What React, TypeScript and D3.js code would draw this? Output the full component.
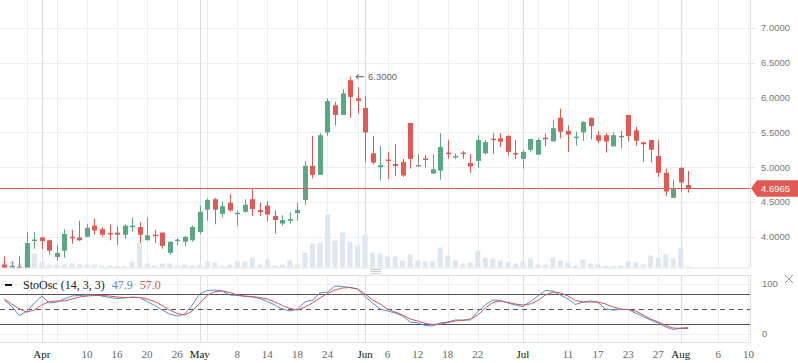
import React, { useEffect, useRef } from "react";
import * as d3 from "d3";

// daily candles, index 0 = first visible bar
const opens = [
  3.60, 3.58, 3.57, 3.55, 3.94, 3.99, 3.95, 3.71, 3.80, 4.00, 3.99, 4.00, 4.16, 4.11, 4.055, 4.06, 4.03, 4.15, 4.14, 3.95,
  4.03, 4.06, 3.77, 3.95, 3.93, 3.95, 4.07, 4.39, 4.54, 4.33, 4.49, 4.335, 4.36, 4.54, 4.385, 4.45, 4.30, 4.19, 4.232, 4.34,
  4.53, 5.02, 4.89, 5.50, 5.89, 5.75, 6.25, 5.99, 5.85, 5.20, 5.00, 5.11, 5.046, 5.075, 5.635, 5.03, 5.125, 4.91, 4.95, 5.21,
  5.15, 5.21, 5.06, 5.09, 5.20, 5.41, 5.415, 5.45, 5.205, 5.12, 5.25, 5.18, 5.424, 5.37, 5.71, 5.52, 5.43, 5.50, 5.71, 5.46,
  5.46, 5.30, 5.45, 5.75, 5.53, 5.357, 5.39, 5.16, 4.92, 4.56, 4.99, 4.744,
];
const highs = [
  3.72, 3.65, 3.72, 4.07, 4.07, 4.00, 3.96, 3.88, 4.11, 4.10, 4.23, 4.18, 4.26, 4.14, 4.18, 4.15, 4.18, 4.28, 4.21, 4.28,
  4.10, 4.06, 3.93, 3.98, 4.01, 4.16, 4.45, 4.55, 4.56, 4.51, 4.61, 4.375, 4.54, 4.70, 4.49, 4.51, 4.38, 4.31, 4.35, 4.49,
  5.09, 5.45, 5.49, 5.99, 5.94, 6.12, 6.30, 6.15, 6.02, 5.45, 5.31, 5.22, 5.33, 5.12, 5.635, 5.19, 5.175, 5.185, 5.49, 5.39,
  5.20, 5.233, 5.19, 5.46, 5.39, 5.49, 5.49, 5.46, 5.39, 5.25, 5.41, 5.42, 5.486, 5.68, 5.84, 5.60, 5.51, 5.66, 5.71, 5.52,
  5.49, 5.50, 5.525, 5.75, 5.58, 5.37, 5.39, 5.39, 4.98, 4.82, 5.00, 4.945,
];
const lows = [
  3.50, 3.55, 3.50, 3.50, 3.83, 3.82, 3.74, 3.66, 3.70, 3.90, 3.94, 4.00, 4.03, 4.00, 3.95, 3.88, 3.97, 4.07, 3.91, 3.95,
  3.91, 3.83, 3.74, 3.88, 3.86, 3.93, 4.04, 4.23, 4.18, 4.28, 4.36, 4.16, 4.35, 4.30, 4.30, 4.22, 4.05, 4.16, 4.19, 4.23,
  4.46, 4.84, 4.89, 5.45, 5.60, 5.75, 5.71, 5.77, 5.07, 5.04, 4.81, 4.83, 4.87, 4.86, 4.98, 5.02, 5.00, 4.90, 4.82, 5.12,
  5.12, 5.12, 4.92, 4.99, 5.18, 5.195, 5.29, 5.165, 5.12, 4.98, 5.22, 5.18, 5.30, 5.37, 5.415, 5.22, 5.31, 5.38, 5.40, 5.35,
  5.21, 5.30, 5.27, 5.37, 5.31, 5.08, 5.065, 4.86, 4.59, 4.56, 4.65, 4.634,
];
const closes = [
  3.55, 3.58, 3.54, 3.91, 3.96, 3.94, 3.80, 3.77, 4.04, 3.99, 3.95, 4.13, 4.09, 4.03, 4.045, 4.03, 4.16, 4.16, 4.03, 4.02,
  4.01, 3.87, 3.93, 3.96, 4.00, 4.14, 4.36, 4.53, 4.39, 4.44, 4.38, 4.347, 4.46, 4.40, 4.356, 4.32, 4.24, 4.24, 4.256, 4.385,
  5.02, 4.89, 5.46, 5.95, 5.75, 6.06, 6.01, 5.955, 5.50, 5.065, 5.03, 5.10, 5.017, 4.88, 5.12, 5.03, 5.115, 4.97, 5.29, 5.20,
  5.16, 5.20, 5.01, 5.39, 5.36, 5.40, 5.367, 5.22, 5.195, 5.22, 5.405, 5.39, 5.405, 5.56, 5.51, 5.47, 5.44, 5.65, 5.59, 5.38,
  5.37, 5.46, 5.45, 5.45, 5.38, 5.33, 5.25, 4.92, 4.65, 4.69, 4.78, 4.6965,
];
const volumes = [
  6, 6, 4, 14, 14, 6, 3, 3, 3, 4, 3, 3, 3, 2, 2, 1.5, 1.5, 6, 25, 4,
  2, 4, 4, 2, 3, 2, 3, 6, 5, 1.5, 3, 6, 6, 10, 3, 8, 2, 3, 7, 3,
  15, 24, 25, 53, 27, 35, 26, 22, 33, 15, 14, 11, 11, 7, 13, 7, 6, 6, 20, 12,
  7, 4, 5, 17, 10, 9, 7, 5, 4, 6, 9, 3, 3, 10, 7, 5, 2, 8, 4, 3,
  1.5, 1.5, 2, 6, 5, 3, 12, 10, 13, 9, 19, 1,
];

// stochastic oscillator (14, 3, 3)
const stoK = [
  68, 55, 37, 45, 62, 76, 62, 64, 70, 76, 77, 78, 78, 76, 73, 71, 72, 74, 73, 65,
  57, 48, 40, 36, 40, 58, 80, 87, 88, 86, 78, 77, 75, 74, 71, 65, 58, 50, 46, 50,
  64, 68, 82, 84, 96, 95, 93, 90, 75, 62, 50, 46, 42, 36, 24, 22, 17, 16, 22, 24,
  28, 28, 28, 45, 58, 68, 67, 62, 58, 55, 65, 76, 87, 86, 78, 70, 59, 64, 66, 63,
  50, 48, 49, 49, 42, 35, 28, 22, 14, 9, 12, 13,
];
const stoD = [
  70, 60, 50, 44, 48, 58, 65, 66, 66, 70, 74, 76, 77, 77, 76, 74, 73, 73, 73, 70,
  65, 57, 48, 41, 38, 46, 62, 77, 85, 86, 83, 78, 76, 75, 73, 70, 64, 57, 51, 48,
  54, 62, 72, 81, 88, 92, 93, 90, 80, 68, 60, 50, 44, 38, 30, 26, 21, 19, 20, 23,
  26, 27, 30, 38, 52, 63, 66, 63, 60, 58, 60, 67, 78, 84, 82, 76, 67, 64, 64, 64,
  60, 54, 50, 49, 46, 38, 30, 24, 17, 12, 11, 11,
];

const monthTicks = [5, 26, 48, 69, 90];
const monthLabels = ["Apr", "May", "Jun", "Jul", "Aug"];
const dayTicks = [11, 15, 19, 23, 31, 35, 39, 43, 51, 55, 59, 63, 75, 79, 83, 87, 95, 99];
const dayLabels = ["10", "16", "20", "26", "8", "14", "18", "24", "6", "12", "18", "22", "11", "17", "23", "27", "6", "10"];
const plainGrid = [3, 7, 27, 47, 67, 71];
const priceTicks = [4.0, 4.5, 5.0, 5.5, 6.0, 6.5, 7.0];
const oscLevels = [80, 50, 20];
const lastPrice = 4.6965;
const peakIndex = 46;

const W = 798;
const H = 363;
const plotRight = 750;
const mainBottom = 267.5;
const oscTop = 275;
const oscBottom = 342;

const UP = "#5aa882";
const DOWN = "#e25852";
const FLAT = "#888888";

export default function App() {
  const ref = useRef<SVGSVGElement>(null);

  useEffect(() => {
    const svg = d3.select(ref.current);
    svg.selectAll("*").remove();

    const x = d3.scaleLinear().domain([0, 91]).range([4.3, 4.3 + 91 * 7.516]);
    const y = d3.scaleLinear().domain([4, 7]).range([236.8, 28]);
    const yOsc = d3.scaleLinear().domain([0, 100]).range([334, 284]);
    const yVol = d3.scaleLinear().domain([0, d3.max(volumes)!]).range([mainBottom, mainBottom - 53]);

    const defs = svg.append("defs");
    defs.append("clipPath").attr("id", "mainClip")
      .append("rect").attr("x", 0).attr("y", 0).attr("width", plotRight).attr("height", mainBottom);
    defs.append("clipPath").attr("id", "oscClip")
      .append("rect").attr("x", 0).attr("y", oscTop).attr("width", plotRight).attr("height", oscBottom - oscTop);

    svg.append("rect").attr("width", W).attr("height", H).attr("fill", "#fff");

    // grid
    const grid = svg.append("g");
    grid.selectAll(".hg").data(priceTicks).join("line")
      .attr("x1", 0).attr("x2", plotRight)
      .attr("y1", (d) => Math.round(y(d)) + 0.5).attr("y2", (d) => Math.round(y(d)) + 0.5)
      .attr("stroke", "#eceef1");
    const vLines = (ticks: number[], color: string) =>
      ticks.forEach((t) => {
        const xx = Math.round(x(t)) + 0.5;
        grid.append("line").attr("x1", xx).attr("x2", xx).attr("y1", 0).attr("y2", mainBottom).attr("stroke", color);
        grid.append("line").attr("x1", xx).attr("x2", xx).attr("y1", oscTop).attr("y2", oscBottom).attr("stroke", color);
      });
    vLines(dayTicks.concat(plainGrid), "#eceef1");
    vLines(monthTicks, "#d9dce1");
    [100, 0].forEach((v) => {
      grid.append("line").attr("x1", 0).attr("x2", plotRight)
        .attr("y1", Math.round(yOsc(v)) + 0.5).attr("y2", Math.round(yOsc(v)) + 0.5).attr("stroke", "#eceef1");
    });

    // frames
    const frame = svg.append("g").attr("stroke", "#dde1e6").attr("fill", "none");
    frame.append("line").attr("x1", plotRight + 0.5).attr("x2", plotRight + 0.5).attr("y1", 0).attr("y2", mainBottom);
    frame.append("line").attr("x1", 0).attr("x2", plotRight).attr("y1", mainBottom + 0.5).attr("y2", mainBottom + 0.5);
    frame.append("line").attr("x1", 0).attr("x2", plotRight).attr("y1", oscTop + 0.5).attr("y2", oscTop + 0.5);
    frame.append("line").attr("x1", plotRight + 0.5).attr("x2", plotRight + 0.5).attr("y1", oscTop).attr("y2", oscBottom);
    frame.append("line").attr("x1", 0).attr("x2", plotRight + 0.5).attr("y1", oscBottom + 0.5).attr("y2", oscBottom + 0.5);
    [269.5, 271.5, 273.5].forEach((yy) =>
      svg.append("line").attr("x1", 370).attr("x2", 381).attr("y1", yy).attr("y2", yy).attr("stroke", "#c9cdd2"));

    // volume + candles
    const main = svg.append("g").attr("clip-path", "url(#mainClip)");
    main.selectAll(".vol").data(volumes).join("rect")
      .attr("x", (d, i) => x(i) - 2.5).attr("width", 5)
      .attr("y", (d) => yVol(d)).attr("height", (d) => mainBottom - yVol(d))
      .attr("fill", "#dce7f2");

    const idx = d3.range(opens.length);
    const color = (i: number) => (closes[i] > opens[i] ? UP : closes[i] < opens[i] ? DOWN : FLAT);
    main.selectAll(".wick").data(idx).join("line")
      .attr("x1", (i) => Math.round(x(i)) + 0.5).attr("x2", (i) => Math.round(x(i)) + 0.5)
      .attr("y1", (i) => y(highs[i])).attr("y2", (i) => y(lows[i]))
      .attr("stroke", color);
    main.selectAll(".body").data(idx).join("rect")
      .attr("x", (i) => Math.round(x(i)) - 2).attr("width", 5)
      .attr("y", (i) => y(Math.max(opens[i], closes[i])))
      .attr("height", (i) => Math.max(1.5, Math.abs(y(opens[i]) - y(closes[i]))))
      .attr("fill", color);

    // last price line
    const yl = Math.round(y(lastPrice)) + 0.5;
    svg.append("line").attr("x1", 0).attr("x2", plotRight).attr("y1", yl).attr("y2", yl)
      .attr("stroke", DOWN).attr("stroke-width", 1.2);

    // peak annotation
    const px = x(peakIndex) + 5;
    const py = y(highs[peakIndex]);
    svg.append("path").attr("d", `M${px + 9},${py} H${px + 1} M${px + 3.5},${py - 2.5} L${px + 1},${py} L${px + 3.5},${py + 2.5}`)
      .attr("stroke", "#555").attr("fill", "none");
    svg.append("text").attr("x", px + 13).attr("y", py).attr("dy", "0.35em")
      .attr("font-family", "Liberation Sans, Arial, sans-serif").attr("font-size", 9.5).attr("fill", "#666")
      .text(highs[peakIndex].toFixed(4));

    // price axis
    const axisFont = "Liberation Sans, Arial, sans-serif";
    const pa = svg.append("g");
    pa.selectAll("line").data(priceTicks).join("line")
      .attr("x1", 751).attr("x2", 755).attr("y1", (d) => Math.round(y(d)) + 0.5).attr("y2", (d) => Math.round(y(d)) + 0.5)
      .attr("stroke", "#dde1e6");
    pa.selectAll("text").data(priceTicks).join("text")
      .attr("x", 761).attr("y", (d) => y(d)).attr("dy", "0.35em")
      .attr("font-family", axisFont).attr("font-size", 9.5).attr("fill", "#777")
      .text((d) => d.toFixed(4));

    const by = y(lastPrice);
    svg.append("path")
      .attr("d", `M751,${by} L757,${by - 8} H798 V${by + 8.5} H757 Z`)
      .attr("fill", DOWN);
    svg.append("text").attr("x", 761).attr("y", by).attr("dy", "0.35em")
      .attr("font-family", axisFont).attr("font-size", 9.5).attr("fill", "#fff")
      .text(lastPrice.toFixed(4));

    // oscillator
    const osc = svg.append("g").attr("clip-path", "url(#oscClip)");
    oscLevels.forEach((v) => {
      osc.append("line").attr("x1", 0).attr("x2", plotRight)
        .attr("y1", Math.round(yOsc(v)) + 0.5).attr("y2", Math.round(yOsc(v)) + 0.5)
        .attr("stroke", "#555").attr("stroke-dasharray", v === 50 ? "5,4" : null);
    });
    const line = (vals: number[]) =>
      d3.line<number>().x((d, i) => x(i)).y((d) => yOsc(d))(vals);
    osc.append("path").attr("d", line(stoK)).attr("fill", "none").attr("stroke", "#5b8bd0").attr("stroke-width", 1);
    osc.append("path").attr("d", line(stoD)).attr("fill", "none").attr("stroke", "#d0575a").attr("stroke-width", 1);

    [100, 0].forEach((v) => {
      svg.append("text").attr("x", 762).attr("y", yOsc(v)).attr("dy", "0.35em")
        .attr("font-family", axisFont).attr("font-size", 9.5).attr("fill", "#777").text(String(v));
    });
    svg.append("path").attr("d", "M785,275 L793,283 M793,275 L785,283").attr("stroke", "#999").attr("stroke-width", 1);

    // legend
    const serif = "Liberation Serif, Times New Roman, serif";
    svg.append("line").attr("x1", 5).attr("x2", 12).attr("y1", 285).attr("y2", 285).attr("stroke", "#111").attr("stroke-width", 2);
    const leg = svg.append("text").attr("x", 23).attr("y", 289).attr("font-family", serif).attr("font-size", 12);
    leg.append("tspan").attr("fill", "#222").text("StoOsc (14, 3, 3)");
    leg.append("tspan").attr("dx", 7).attr("fill", "#5b8bd0").text("47.9");
    leg.append("tspan").attr("dx", 7).attr("fill", "#d0575a").text("57.0");

    // date axis
    const da = svg.append("g").attr("font-family", serif).attr("font-size", 11).attr("text-anchor", "middle");
    da.selectAll(".m").data(monthTicks).join("text")
      .attr("x", (d) => x(d)).attr("y", 358).attr("fill", "#111")
      .text((d, i) => monthLabels[i]);
    da.selectAll(".d").data(dayTicks).join("text")
      .attr("x", (d) => x(d)).attr("y", 358).attr("fill", "#666")
      .text((d, i) => dayLabels[i]);
  }, []);

  return (
    <div style={{ position: "absolute", left: 0, top: 0 }}>
      <svg ref={ref} width={W} height={H} style={{ display: "block" }} />
    </div>
  );
}
